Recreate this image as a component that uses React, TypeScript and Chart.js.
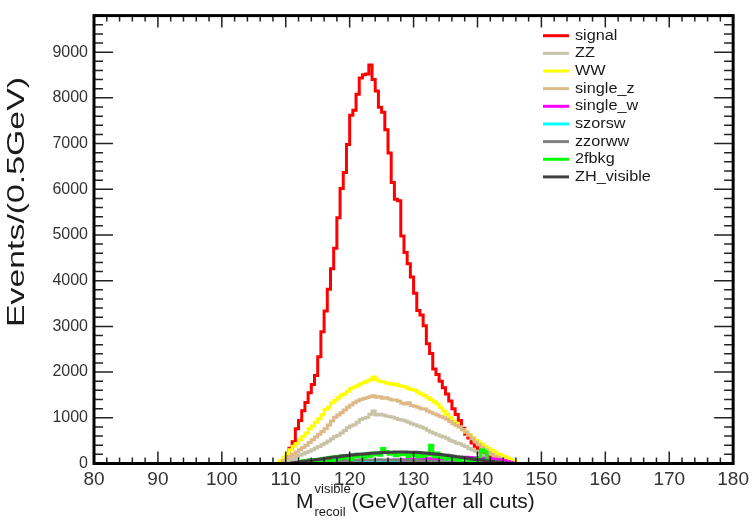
import React, { useEffect, useRef } from 'react';
import { Chart, registerables } from 'chart.js';

Chart.register(...registerables);

// ---------- data ----------
const BIN_WIDTH = 0.5;
const X_MIN = 80;
const X_MAX = 180;
const Y_MIN = 0;
const Y_MAX = 9800;
const X_TICK_LABELS = [80, 90, 100, 110, 120, 130, 140, 150, 160, 170, 180];
const Y_TICK_LABELS = [0, 1000, 2000, 3000, 4000, 5000, 6000, 7000, 8000, 9000];

const seriesNames = ['signal', 'ZZ', 'WW', 'single_z', 'single_w', 'szorsw', 'zzorww', '2fbkg', 'ZH_visible'];
const seriesColors = ['#ff0000', '#c8c2a6', '#ffff00', '#deb887', '#ff00ff', '#00ffff', '#808080', '#00ff00', '#404040'];

// each series: lower edge of first filled bin, then one value per 0.5 GeV bin
const signalStart = 110.0;
const signalValues = [
  150, 334, 478, 763, 942, 1156, 1334, 1548, 1727, 1927,
  2334, 2884, 3334, 3812, 4261, 4710, 5375, 6016, 6366, 6980,
  7620, 7730, 8080, 8437, 8507, 8520, 8720, 8400, 8150, 7794,
  7687, 7300, 6794, 6150, 5780, 5750, 4975, 4619, 4368, 4083,
  3726, 3350, 3250, 3012, 2620, 2405, 2070, 1948, 1798, 1656,
  1520, 1370, 1200, 1070, 942, 770, 640, 560, 450, 380,
  320, 260, 200, 150, 110, 80, 55, 35, 20, 10,
];

const zzStart = 110.0;
const zzValues = [
  40, 70, 100, 140, 180, 210, 240, 270, 300, 340,
  370, 410, 450, 490, 540, 590, 620, 670, 720, 780,
  820, 850, 900, 960, 990, 1010, 1080, 1150, 1060, 1080,
  1060, 1040, 1030, 1010, 990, 960, 950, 930, 900, 870,
  850, 820, 800, 770, 730, 690, 660, 630, 600, 580,
  550, 510, 480, 450, 430, 400, 370, 330, 300, 270,
  230, 180, 120, 60, 20,
];

const wwStart = 109.0;
const wwValues = [
  60, 130, 220, 300, 380, 440, 520, 590, 660, 760,
  820, 900, 980, 1060, 1180, 1230, 1330, 1380, 1440, 1500,
  1520, 1580, 1640, 1670, 1700, 1740, 1770, 1800, 1830, 1890,
  1830, 1800, 1790, 1760, 1750, 1730, 1740, 1700, 1690, 1680,
  1640, 1620, 1600, 1560, 1520, 1490, 1440, 1400, 1350, 1300,
  1230, 1150, 1080, 1000, 930, 880, 800, 740, 690, 630,
  570, 510, 470, 420, 370, 330, 290, 250, 210, 180,
  150, 120, 90, 55,
];

const singleZStart = 109.5;
const singleZValues = [
  60,
  120, 160, 200, 250, 300, 350, 400, 460, 520, 580,
  640, 700, 760, 840, 930, 1010, 1060, 1110, 1170, 1230,
  1280, 1330, 1370, 1400, 1420, 1440, 1460, 1480, 1450, 1460,
  1430, 1440, 1410, 1390, 1390, 1360, 1320, 1300, 1330, 1270,
  1250, 1230, 1200, 1190, 1150, 1120, 1090, 1060, 1030, 1000,
  970, 920, 870, 830, 800, 740, 690, 620, 540, 470,
  410, 350, 300, 240, 200, 160, 130, 100, 70, 45,
  20,
];

const singleWStart = 113.0;
const singleWValues = [
  5, 8, 10, 12, 15, 18, 20, 22, 25, 28,
  30, 32, 35, 38, 40, 42, 45, 48, 50, 52,
  55, 58, 60, 62, 65, 68, 70, 72, 75, 78,
  80, 84, 86, 88, 90, 94, 95, 97, 100, 104,
  105, 108, 110, 114, 115, 118, 120, 126, 130, 128,
  135, 130, 128, 126, 120, 116, 110, 105, 100, 95,
  85, 75, 60, 40, 20,
];

const szorswStart = 117.0;
const szorswValues = [
  8, 12, 15, 18, 22, 25, 28, 30, 33, 35,
  37, 40, 42, 44, 45, 47, 48, 50, 50, 51,
  50, 50, 49, 48, 47, 46, 44, 42, 40, 38,
  36, 34, 32, 30, 28, 26, 24, 22, 20, 18,
  16, 14, 12, 10, 8, 7, 6, 5, 4, 3,
];

const zzorwwStart = 112.0;
const zzorwwValues = [
  10, 14, 18, 22, 26, 30, 34, 38, 42, 46,
  50, 54, 57, 60, 63, 66, 68, 70, 72, 74,
  76, 77, 78, 79, 80, 80, 79, 78, 77, 75,
  74, 72, 70, 68, 66, 64, 62, 60, 57, 54,
  51, 48, 45, 42, 39, 36, 33, 30, 27, 24,
  21, 18, 16, 14, 12, 10, 8, 6, 5, 4,
  3, 2, 1, 1,
];

const fbkgStart = 112.0;
const fbkgValues = [
  30, 60, 20, 80, 50, 90, 40, 110, 70, 130,
  60, 150, 100, 170, 120, 160, 90, 180, 140, 200,
  120, 210, 160, 190, 230, 180, 330, 260, 200, 230,
  170, 240, 190, 220, 150, 210, 180, 140, 200, 160,
  190, 400, 150, 228, 130, 170, 100, 150, 90, 120,
  60, 100, 110, 60, 90, 40, 120, 300, 250, 60,
  30, 40, 10,
];

const zhVisibleStart = 111.0;
const zhVisibleValues = [
  15, 25, 35, 45, 55, 60, 75, 80, 95, 100,
  115, 120, 135, 140, 150, 160, 170, 175, 185, 190,
  200, 205, 210, 215, 222, 228, 232, 236, 240, 242,
  246, 248, 252, 250, 254, 250, 248, 246, 244, 238,
  235, 228, 224, 216, 210, 202, 195, 186, 178, 168,
  160, 150, 140, 130, 120, 110, 100, 90, 80, 70,
  60, 50, 42, 34, 26, 18, 12, 6,
];

const seriesStarts = [signalStart, zzStart, wwStart, singleZStart, singleWStart, szorswStart, zzorwwStart, fbkgStart, zhVisibleStart];
const seriesValues = [signalValues, zzValues, wwValues, singleZValues, singleWValues, szorswValues, zzorwwValues, fbkgValues, zhVisibleValues];

// ---------- helpers ----------
function histPoints(start: number, values: number[]) {
  const pts: { x: number; y: number }[] = [];
  const nBins = Math.round((X_MAX - X_MIN) / BIN_WIDTH);
  const offset = Math.round((start - X_MIN) / BIN_WIDTH);
  for (let i = 0; i < nBins; i++) {
    const j = i - offset;
    pts.push({ x: X_MIN + i * BIN_WIDTH, y: j >= 0 && j < values.length ? values[j] : 0 });
  }
  pts.push({ x: X_MAX, y: 0 });
  return pts;
}

const FONT = '"Liberation Sans", Arial, Helvetica, sans-serif';

const framePlugin = {
  id: 'rootFrame',
  afterDatasetsDraw(chart: any) {
    const { ctx, chartArea: a, scales } = chart;
    const x = scales.x;
    const y = scales.y;
    ctx.save();
    ctx.strokeStyle = '#222';
    ctx.lineWidth = 1.5;
    ctx.beginPath();
    for (let v = X_MIN; v <= X_MAX; v += 2) {
      const px = x.getPixelForValue(v);
      const len = v % 10 === 0 ? 12 : 6;
      ctx.moveTo(px, a.bottom);
      ctx.lineTo(px, a.bottom - len);
      ctx.moveTo(px, a.top);
      ctx.lineTo(px, a.top + len);
    }
    for (let v = Y_MIN; v <= Y_MAX; v += 200) {
      const py = y.getPixelForValue(v);
      const len = v % 1000 === 0 ? 19 : 9;
      ctx.moveTo(a.left, py);
      ctx.lineTo(a.left + len, py);
      ctx.moveTo(a.right, py);
      ctx.lineTo(a.right - len, py);
    }
    ctx.stroke();
    ctx.strokeStyle = '#000';
    ctx.lineWidth = 3;
    ctx.strokeRect(a.left, a.top, a.right - a.left, a.bottom - a.top);
    ctx.restore();
  },
};

const decorPlugin = {
  id: 'rootDecor',
  afterDraw(chart: any) {
    const { ctx } = chart;
    ctx.save();
    // legend
    chart.data.datasets.forEach((ds: any, i: number) => {
      const ly = 35.7 + i * 17.65;
      ctx.strokeStyle = ds.borderColor;
      ctx.lineWidth = 3;
      ctx.beginPath();
      ctx.moveTo(543, ly);
      ctx.lineTo(569, ly);
      ctx.stroke();
      ctx.save();
      ctx.translate(575, ly + 4);
      ctx.scale(1.16, 1);
      ctx.fillStyle = '#1a1a1a';
      ctx.font = `14px ${FONT}`;
      ctx.textAlign = 'left';
      ctx.textBaseline = 'alphabetic';
      ctx.fillText(ds.label, 0, 0);
      ctx.restore();
    });

    // y title
    ctx.save();
    ctx.fillStyle = '#1a1a1a';
    ctx.font = `24px ${FONT}`;
    const yTitle = 'Events/(0.5GeV)';
    const w = ctx.measureText(yTitle).width;
    ctx.translate(24, 202);
    ctx.rotate(-Math.PI / 2);
    ctx.scale(250 / w, 1);
    ctx.textAlign = 'center';
    ctx.textBaseline = 'alphabetic';
    ctx.fillText(yTitle, 0, 0);
    ctx.restore();

    // x title
    ctx.save();
    ctx.fillStyle = '#1a1a1a';
    ctx.textAlign = 'left';
    ctx.textBaseline = 'alphabetic';
    ctx.font = `21px ${FONT}`;
    const mx = 296;
    ctx.fillText('M', mx, 508);
    const mW = ctx.measureText('M').width;
    ctx.font = `13px ${FONT}`;
    ctx.fillText('visible', mx + mW + 1, 493);
    const supW = ctx.measureText('visible').width;
    ctx.fillText('recoil', mx + mW + 1, 516);
    ctx.font = `21px ${FONT}`;
    ctx.fillText('(GeV)(after all cuts)', mx + mW + 2 + supW, 508);
    ctx.restore();

    ctx.restore();
  },
};

export default function App() {
  const canvasRef = useRef<HTMLCanvasElement | null>(null);

  useEffect(() => {
    document.body.style.margin = '0';
    const canvas = canvasRef.current;
    if (!canvas) return;

    const datasets = seriesNames.map((name, i) => ({
      label: name,
      data: histPoints(seriesStarts[i], seriesValues[i]),
      borderColor: seriesColors[i],
      backgroundColor: seriesColors[i],
      borderWidth: 3,
      stepped: 'before' as const,
      pointRadius: 0,
      fill: false,
      order: seriesNames.length - i,
    }));

    const chart = new Chart(canvas, {
      type: 'line',
      data: { datasets },
      options: {
        animation: false,
        responsive: false,
        maintainAspectRatio: false,
        parsing: false,
        normalized: true,
        layout: { padding: { top: 6.5, right: 15.5, left: 0, bottom: 0 } },
        plugins: {
          legend: { display: false },
          tooltip: { enabled: false },
        },
        elements: { point: { radius: 0 }, line: { tension: 0, borderJoinStyle: 'miter' } },
        scales: {
          x: {
            type: 'linear',
            min: X_MIN,
            max: X_MAX,
            grid: { display: false, drawTicks: false },
            border: { display: false },
            ticks: {
              autoSkip: false,
              maxRotation: 0,
              padding: 5,
              color: '#333',
              font: { family: FONT, size: 19 },
              callback: (v: any) => String(v),
            },
            afterBuildTicks: (s: any) => {
              s.ticks = X_TICK_LABELS.map((v) => ({ value: v }));
            },
            afterFit: (s: any) => {
              s.height = 56.5;
            },
          },
          y: {
            type: 'linear',
            min: Y_MIN,
            max: Y_MAX,
            grid: { display: false, drawTicks: false },
            border: { display: false },
            ticks: {
              padding: 6,
              color: '#333',
              font: { family: FONT, size: 16 },
              callback: (v: any) => String(v),
            },
            afterBuildTicks: (s: any) => {
              s.ticks = Y_TICK_LABELS.map((v) => ({ value: v }));
            },
            afterFit: (s: any) => {
              s.width = 94;
            },
          },
        },
      },
      plugins: [framePlugin, decorPlugin],
    });

    return () => chart.destroy();
  }, []);

  return <canvas ref={canvasRef} width={754} height={520} style={{ display: 'block' }} />;
}
